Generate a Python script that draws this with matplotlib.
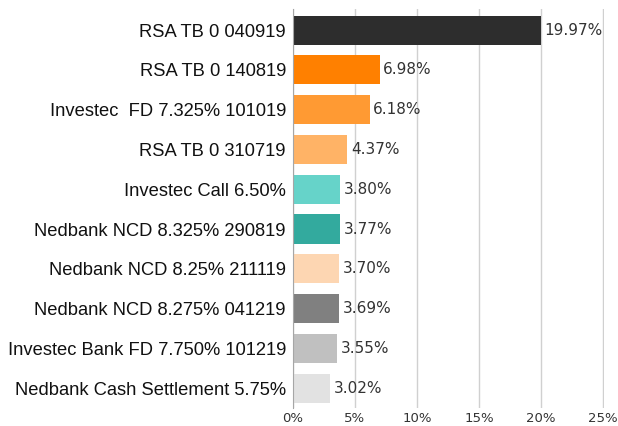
import matplotlib
matplotlib.use("Agg")
import matplotlib.pyplot as plt
import numpy as np

names = [
    "RSA TB 0 040919",
    "RSA TB 0 140819",
    "Investec  FD 7.325% 101019",
    "RSA TB 0 310719",
    "Investec Call 6.50%",
    "Nedbank NCD 8.325% 290819",
    "Nedbank NCD 8.25% 211119",
    "Nedbank NCD 8.275% 041219",
    "Investec Bank FD 7.750% 101219",
    "Nedbank Cash Settlement 5.75%",
]
weights = [19.97, 6.98, 6.18, 4.37, 3.80, 3.77, 3.70, 3.69, 3.55, 3.02]
colors = ["#2d2d2d", "#ff8000", "#ff9a33", "#ffb366", "#66d3c9",
          "#33aa9e", "#fdd6b2", "#808080", "#c0c0c0", "#e2e2e2"]
xticks = [0, 5, 10, 15, 20, 25]

fig = plt.figure(figsize=(6.18, 4.26), dpi=100)
ax = fig.add_axes([0.474, 0.042, 0.503, 0.937])

pos = np.arange(len(names))
ax.barh(pos, weights, height=0.73, color=colors, zorder=3)
for p, w in zip(pos, weights):
    ax.text(w + 0.3, p, "%.2f%%" % w, va="center", ha="left",
            fontsize=11, color="#333333", family="DejaVu Sans", zorder=4)

ax.set_xlim(0, 25.05)
ax.set_ylim(len(names) - 0.5, -0.53)
ax.set_yticks(pos)
ax.set_yticklabels(names, fontsize=13.2, family="Liberation Sans", color="#111111")
ax.set_xticks(xticks)
ax.set_xticklabels(["%d%%" % t for t in xticks], fontsize=9.5, family="DejaVu Sans",
                   color="#333333")
ax.tick_params(axis="both", length=0)
ax.tick_params(axis="y", pad=5)
ax.tick_params(axis="x", pad=3)
ax.grid(axis="x", color="#d0d0d0", linewidth=1, zorder=0)
for s in ["top", "right", "bottom"]:
    ax.spines[s].set_visible(False)
ax.spines["left"].set_color("#a6a6a6")
ax.spines["left"].set_zorder(5)

fig.savefig("out.png", dpi=100)
